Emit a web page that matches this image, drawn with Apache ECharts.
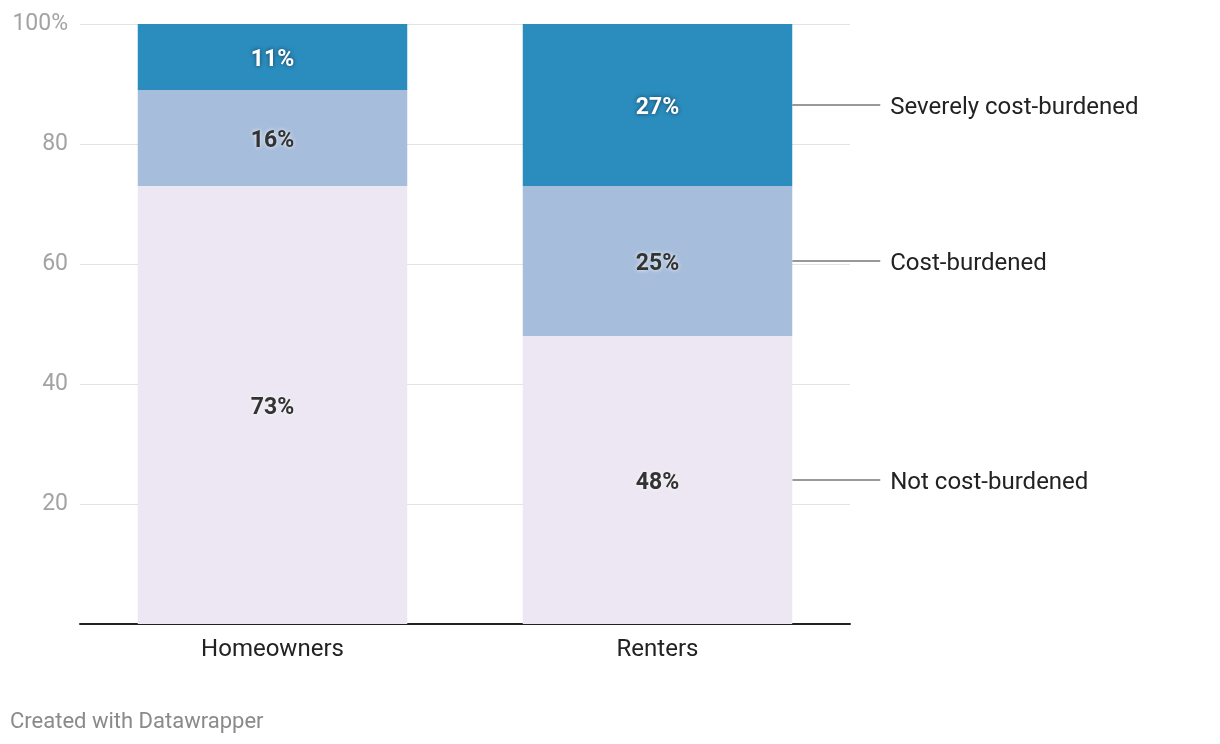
<!DOCTYPE html>
<html><head><meta charset="utf-8">
<script src="https://cdn.jsdelivr.net/npm/echarts@6/dist/echarts.min.js"></script>
<style>html,body{margin:0;padding:0;background:#fff}#c{width:1220px;height:744px}</style>
</head><body><div id="c"></div>
<script>
const categories = ['Homeowners', 'Renters'];
const seriesNames = ['Not cost-burdened', 'Cost-burdened', 'Severely cost-burdened'];
const notBurdened = [73, 48];
const costBurdened = [16, 25];
const severelyBurdened = [11, 27];
const yTicks = [20, 40, 60, 80, 100];
const colors = ['#ece7f2', '#a6bddb', '#2b8cbe'];

const values = [notBurdened, costBurdened, severelyBurdened];
const chart = echarts.init(document.getElementById('c'), null, {renderer: 'canvas'});
const FONT = 'Roboto';

function lbl(i) {
  const dark = i < 2;
  return {
    show: true, position: 'inside', offset: [0, 3],
    formatter: p => p.value + '%',
    fontFamily: FONT, fontWeight: 'bold', fontSize: 23,
    color: dark ? '#333333' : '#ffffff',
    textShadowColor: dark ? 'rgba(255,255,255,0.9)' : 'rgba(0,0,0,0.55)',
    textShadowBlur: 4
  };
}

chart.setOption({
  animation: false,
  grid: {left: 80, right: 370, top: 24, bottom: 120},
  xAxis: {
    type: 'category', data: categories,
    axisLine: {show: true, lineStyle: {color: '#222', width: 2}},
    axisTick: {show: false},
    axisLabel: {fontFamily: FONT, fontSize: 24, color: '#222', margin: 14}
  },
  yAxis: {
    type: 'value', min: 0, max: 100, interval: 20,
    axisLine: {show: false}, axisTick: {show: false},
    splitLine: {show: true, lineStyle: {color: '#e3e3e3', width: 1}},
    axisLabel: {
      fontFamily: FONT, fontSize: 23, color: '#a3a3a3', margin: 12, padding: [5, 0, 0, 0],
      formatter: v => (yTicks.indexOf(v) < 0 ? '' : (v === 100 ? v + '%' : String(v)))
    }
  },
  series: values.map((arr, i) => ({
    name: seriesNames[i], type: 'bar', stack: 'all',
    data: arr, barWidth: '70%',
    itemStyle: {color: colors[i]},
    label: lbl(i)
  }))
});

function drawLeaders() {
  const grid = chart.getModel().getComponent('grid', 0).coordinateSystem.getRect();
  const band = grid.width / categories.length;
  const cx = chart.convertToPixel({xAxisIndex: 0}, 'Renters');
  const right = cx + band * 0.35;
  const idx = categories.indexOf('Renters');
  let base = 0;
  const els = [];
  values.forEach((arr, i) => {
    const mid = base + arr[idx] / 2;
    base += arr[idx];
    const y = chart.convertToPixel({yAxisIndex: 0}, mid);
    els.push({type: 'line', shape: {x1: right, y1: y, x2: right + 88, y2: y},
      style: {stroke: '#777', lineWidth: 1.5}});
    els.push({type: 'text', x: right + 98, y: y + 3,
      style: {text: seriesNames[i], fontFamily: FONT, fontSize: 24, fill: '#222',
        textVerticalAlign: 'middle', verticalAlign: 'middle'}});
  });
  els.push({type: 'text', left: 10, top: 711,
    style: {text: 'Created with Datawrapper', fontFamily: FONT, fontSize: 22, fill: '#8a8a8a'}});
  chart.setOption({graphic: els});
}
drawLeaders();
</script></body></html>
